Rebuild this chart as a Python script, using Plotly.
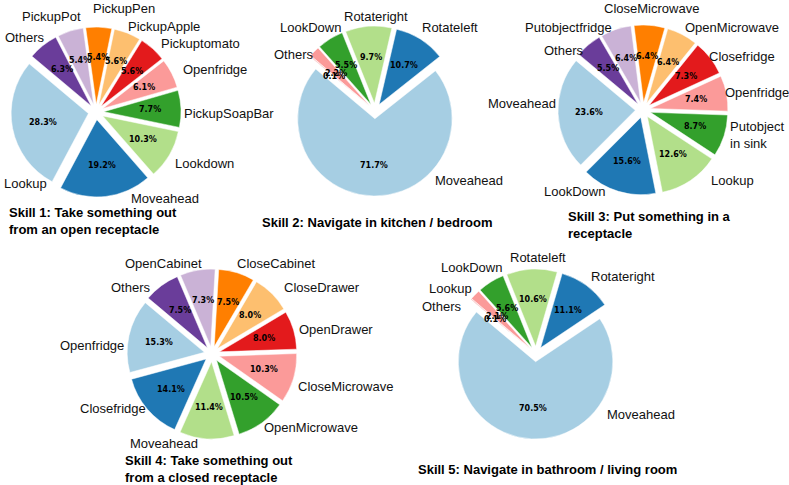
import math
import plotly.graph_objects as go

W, H = 789, 485

# matplotlib "Paired" colours, in slice order
colors = ["#a6cee3", "#1f78b4", "#b2df8a", "#33a02c", "#fb9a99",
          "#e31a1c", "#fdbf6f", "#ff7f00", "#cab2d6", "#6a3d9a"]

skill1_labels = ["Lookup", "Moveahead", "Lookdown", "PickupSoapBar", "Openfridge",
                 "Pickuptomato", "PickupApple", "PickupPen", "PickupPot", "Others"]
skill1_values = [28.3, 19.2, 10.3, 7.7, 6.1, 5.6, 5.6, 5.4, 5.4, 6.3]

skill2_labels = ["Moveahead", "Rotateleft", "Rotateright", "LookDown", "Lookup", "Others"]
skill2_values = [71.7, 10.7, 9.7, 5.5, 2.2, 0.1]
skill2_text = ["Moveahead", "Rotateleft", "Rotateright", "LookDown", "", "Others"]

skill3_labels = ["Moveahead", "LookDown", "Lookup", "Putobject<br>in sink", "Openfridge",
                 "Closefridge", "OpenMicrowave", "CloseMicrowave", "Putobjectfridge", "Others"]
skill3_values = [23.6, 15.6, 12.6, 8.7, 7.4, 7.3, 6.4, 6.4, 6.4, 5.5]

skill4_labels = ["Openfridge", "Closefridge", "Moveahead", "OpenMicrowave", "CloseMicrowave",
                 "OpenDrawer", "CloseDrawer", "CloseCabinet", "OpenCabinet", "Others"]
skill4_values = [15.3, 14.1, 11.4, 10.5, 10.3, 8.0, 8.0, 7.5, 7.3, 7.5]

skill5_labels = ["Moveahead", "Rotateright", "Rotateleft", "LookDown", "Lookup", "Others"]
skill5_values = [70.5, 11.1, 10.6, 5.6, 2.1, 0.1]

titles = [
    "Skill 1: Take something out<br>from an open receptacle",
    "Skill 2: Navigate in kitchen / bedroom",
    "Skill 3: Put something in a<br>receptacle",
    "Skill 4: Take something out<br>from a closed receptacle",
    "Skill 5: Navigate in bathroom / living room",
]

# where the name labels sit (left edge, vertical middle), in pixels
label_xy1 = [(2, 183), (129, 198), (173, 163), (182, 113), (181, 70),
             (159, 43), (126, 26), (91, 8), (20, 17), (3, 38)]
label_xy2 = [(433, 180), (420, 27), (342, 17), (278, 27), (0, 0), (272, 54)]
label_xy3 = [(486, 103), (542, 192), (709, 180), (728, 135), (723, 92),
             (707, 56), (683, 27), (602, 8), (523, 27), (542, 51)]
label_xy4 = [(58, 345), (78, 408), (128, 443), (262, 427), (296, 386),
             (297, 329), (282, 287), (235, 263), (123, 263), (109, 287)]
label_xy5 = [(605, 414), (589, 276), (508, 257), (439, 267), (427, 288), (420, 306)]

START = 140   # first wedge starts here (deg, counterclockwise from 3 o'clock)
PULL = 0.1
HALF = 85     # half size of each pie's domain in px

fig = go.Figure()


def add_skill(labels, values, names, cx, cy, label_xy):
    total = sum(values)
    # plotly puts the first slice clockwise of `rotation`, then goes counterclockwise
    rot = (90 - START) - 360 * values[0] / total
    rot = (rot + 180) % 360 - 180
    dom = dict(x=[(cx - HALF) / W, (cx + HALF) / W],
               y=[1 - (cy + HALF) / H, 1 - (cy - HALF) / H])
    fig.add_trace(go.Pie(
        labels=labels, values=values, sort=False,
        direction="counterclockwise", rotation=rot, pull=PULL,
        domain=dom, hoverinfo="skip", textinfo="none",
        marker=dict(colors=colors[:len(values)], line=dict(color="white", width=0.5)),
    ))

    r = HALF / (1 + PULL)
    cum = 0.0
    for v in values:
        mid = math.radians(START + 360 * (cum + v / 2) / total)
        cum += v
        px = cx + (PULL + 0.6) * r * math.cos(mid)
        py = cy - (PULL + 0.6) * r * math.sin(mid)
        fig.add_annotation(
            text="%.1f%%" % v, x=px / W, y=1 - py / H,
            xref="paper", yref="paper", xanchor="center", yanchor="middle",
            showarrow=False,
            font=dict(family="DejaVu Sans", size=8, color="black", weight="bold"),
        )

    for name, (lx, ly) in zip(names, label_xy):
        if not name:
            continue
        fig.add_annotation(
            text=name, x=lx / W, y=1 - ly / H,
            xref="paper", yref="paper", xanchor="left", yanchor="middle",
            align="left", showarrow=False,
            font=dict(family="Liberation Sans", size=13, color="#111111"),
        )


add_skill(skill1_labels, skill1_values, skill1_labels, 96, 112, label_xy1)
add_skill(skill2_labels, skill2_values, skill2_text, 375, 111, label_xy2)
add_skill(skill3_labels, skill3_values, skill3_labels, 643, 110, label_xy3)
add_skill(skill4_labels, skill4_values, skill4_labels, 212, 354, label_xy4)
add_skill(skill5_labels, skill5_values, skill5_labels, 536, 354, label_xy5)

title_pos = [(7, 221), (260, 223), (566, 225), (123, 469), (416, 469)]
for t, (x, y) in zip(titles, title_pos):
    fig.add_annotation(text="<b>%s</b>" % t, x=x / W, y=1 - y / H,
                       xref="paper", yref="paper", xanchor="left", yanchor="middle",
                       align="left", showarrow=False,
                       font=dict(family="Liberation Sans", size=13, color="black"))

fig.update_layout(
    width=W, height=H,
    margin=dict(l=0, r=0, t=0, b=0, autoexpand=False),
    paper_bgcolor="white", plot_bgcolor="white",
    showlegend=False,
)

# drop the browser's default 8px body margin so the figure fills the window
fig.write_html("out.html", config={"displayModeBar": False},
               post_script="document.body.style.margin='0px';")
